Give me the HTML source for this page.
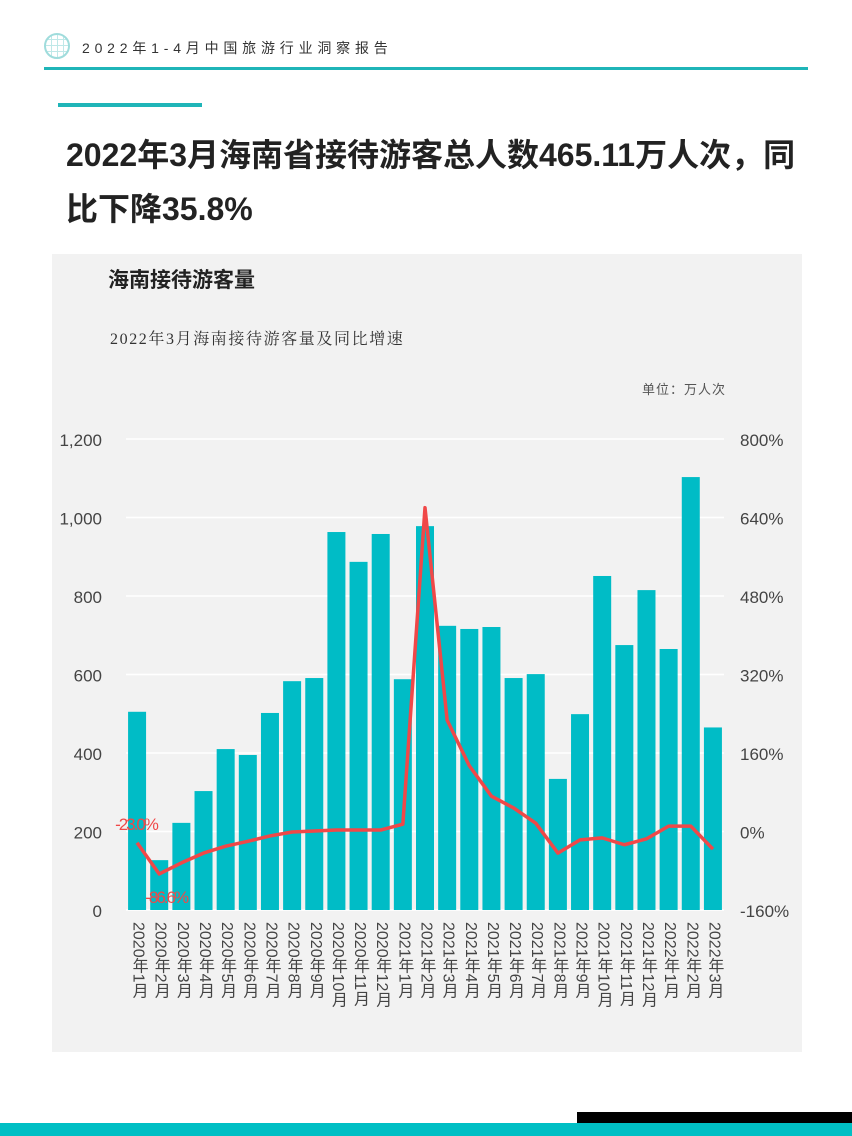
<!DOCTYPE html>
<html><head><meta charset="utf-8"><style>
body{margin:0;width:852px;height:1136px;position:relative;background:#fff;font-family:"Liberation Sans","Noto Sans CJK SC",sans-serif;overflow:hidden}
.a{position:absolute}
</style></head><body>
<div class="a" style="left:44px;top:33px;width:26px;height:26px;border-radius:50%;border:2px solid #9fdcdc;box-sizing:border-box;background:repeating-linear-gradient(90deg,transparent 0 5px,#bfe8e8 5px 6px),repeating-linear-gradient(0deg,transparent 0 5px,#bfe8e8 5px 6px)"></div>
<div class="a" style="left:82px;top:38px;font-size:14px;letter-spacing:4.8px;color:#333">2022年1-4月中国旅游行业洞察报告</div>
<div class="a" style="left:44px;top:67px;width:764px;height:3px;background:#1fb5b8"></div>
<div class="a" style="left:58px;top:103px;width:144px;height:4px;background:#1fb5b8"></div>
<div class="a" style="left:66px;top:128px;width:760px;font-size:32px;font-weight:bold;line-height:54px;color:#222">2022年3月海南省接待游客总人数465.11万人次，同<br>比下降35.8%</div>
<div class="a" style="left:52px;top:254px;width:750px;height:798px;background:#f2f2f2"></div>
<div class="a" style="left:108px;top:264px;font-size:21px;font-weight:bold;color:#222">海南接待游客量</div>
<div class="a" style="left:110px;top:326px;font-size:16px;letter-spacing:1.6px;color:#333;font-family:'Liberation Serif','Noto Serif CJK SC',serif">2022年3月海南接待游客量及同比增速</div>
<div class="a" style="left:642px;top:379px;font-size:13px;color:#555;letter-spacing:1px">单位：万人次</div>
<svg class="a" style="left:0;top:0" width="852" height="1136" id="chart"></svg>
<div class="a" style="left:577px;top:1112px;width:275px;height:12px;background:#000"></div>
<div class="a" style="left:0;top:1123px;width:852px;height:13px;background:#00bfc4"></div>
<script>
const categories=["2020年1月","2020年2月","2020年3月","2020年4月","2020年5月","2020年6月","2020年7月","2020年8月","2020年9月","2020年10月","2020年11月","2020年12月","2021年1月","2021年2月","2021年3月","2021年4月","2021年5月","2021年6月","2021年7月","2021年8月","2021年9月","2021年10月","2021年11月","2021年12月","2022年1月","2022年2月","2022年3月"];
const visitors=[505,127,222,303,410,395,502,583,591,963,887,958,588,978,724,716,721,591,601,334,499,851,675,815,665,1103,465.11];
const growth=[-23.0,-86.6,-64,-44,-30,-20,-9,-1,1,3,3,3,15,660,227,134,72,48,17,-44,-17,-13,-27,-15,11,11,-35.8];
const leftTicks=[0,200,400,600,800,1000,1200];
const leftTickLabels=["0","200","400","600","800","1,000","1,200"];
const rightTicks=[-160,0,160,320,480,640,800];
const rightTickLabels=["-160%","0%","160%","320%","480%","640%","800%"];
const NS="http://www.w3.org/2000/svg",svg=document.getElementById('chart');
const x0=126,x1=724,yB=910,yT=439;
const step=(x1-x0)/categories.length;
const xc=i=>x0+step*(i+0.5);
const yL=v=>yB-(v-0)/1200*(yB-yT);
const yR=v=>yB-(v+160)/960*(yB-yT);
function mk(t,a){const e=document.createElementNS(NS,t);for(const k in a)e.setAttribute(k,a[k]);svg.appendChild(e);return e;}
leftTicks.forEach((v,i)=>{
 const g=mk('line',{x1:x0,x2:x1,y1:yL(v),y2:yL(v),stroke:'#fff','stroke-width':1.5});
 
 
 const t=mk('text',{x:102,y:yL(v)+7,'text-anchor':'end','font-size':17,fill:'#444'});t.textContent=leftTickLabels[i];
 
 
});
rightTicks.forEach((v,i)=>{
 const t=mk('text',{x:740,y:yR(v)+7,'font-size':17,fill:'#444'});t.textContent=rightTickLabels[i];
 
 
});
visitors.forEach((v,i)=>{
 const r=mk('rect',{x:xc(i)-9,y:yL(v),width:18,height:yB-yL(v),fill:'#00bcc6'});
 
 
});
categories.forEach((c,i)=>{
 const t=mk('text',{x:xc(i)+1,y:922,'font-size':16,fill:'#444','writing-mode':'tb','style':'writing-mode:vertical-rl'});t.textContent=c;
 
 
});
const p=mk('polyline',{points:growth.map((v,i)=>xc(i)+','+yR(v)).join(' '),fill:'none',stroke:'#f04848','stroke-width':3.5,'stroke-linejoin':'round'});


[[0,-23.0,-22,-13],[1,-86.6,-14,29]].forEach(([i,v,dx,dy])=>{
 const t=mk('text',{x:xc(i)+dx,y:yR(v)+dy,'font-size':17,fill:'#f04848','letter-spacing':-2});t.textContent=v.toFixed(1)+'%';
 
 
});
</script>
</body></html>
